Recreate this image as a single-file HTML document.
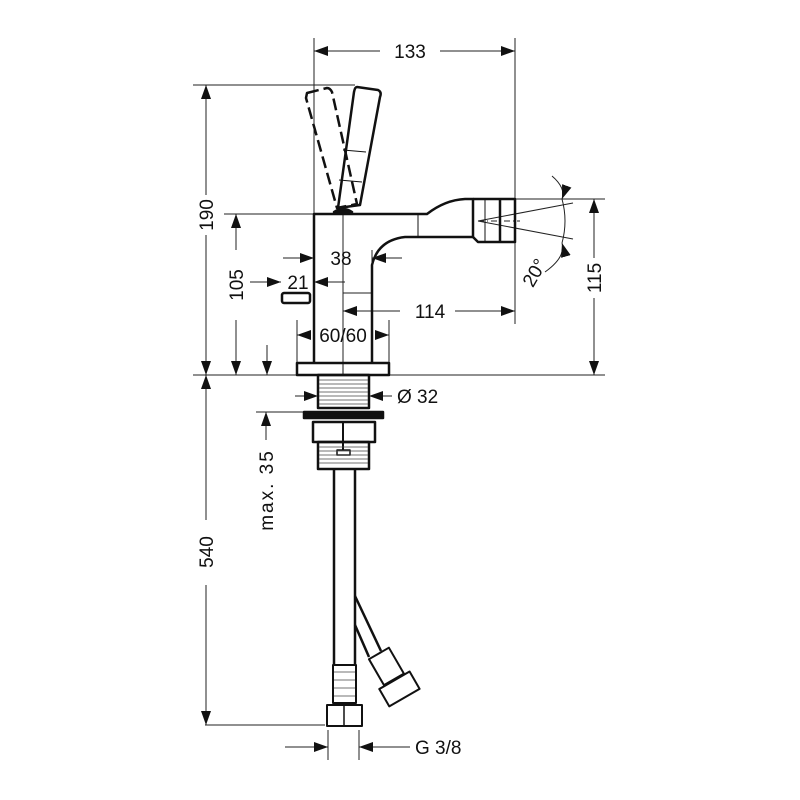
<!DOCTYPE html>
<html><head><meta charset="utf-8"><style>
html,body{margin:0;padding:0;background:#fff}
svg{display:block}
text{font-family:"Liberation Sans",sans-serif;font-size:19px;fill:#111}
</style></head><body>
<svg width="800" height="800" viewBox="0 0 800 800" xmlns="http://www.w3.org/2000/svg">
<defs>
<marker id="a" viewBox="0 0 14 10" refX="14" refY="5" markerWidth="14" markerHeight="10" markerUnits="userSpaceOnUse" orient="auto"><path d="M0,0 L14,5 L0,10 Z" fill="#111"/></marker>
</defs>
<g stroke="#222" stroke-width="1" fill="none">
<line x1="314" y1="38" x2="314" y2="214"/>
<line x1="515" y1="38" x2="515" y2="324"/>
<line x1="193" y1="85" x2="355" y2="85"/>
<line x1="224" y1="214" x2="314" y2="214"/>
<line x1="193" y1="375" x2="605" y2="375"/>
<line x1="515" y1="199" x2="605" y2="199"/>
<line x1="343" y1="214" x2="343" y2="375"/>
<line x1="343" y1="293" x2="372" y2="293"/>
<line x1="297" y1="320" x2="297" y2="363"/>
<line x1="389" y1="320" x2="389" y2="363"/>
<line x1="256" y1="412" x2="305" y2="412"/>
<line x1="205" y1="725" x2="325" y2="725"/>
<line x1="328" y1="730" x2="328" y2="760"/>
<line x1="359" y1="730" x2="359" y2="760"/>
<line x1="372" y1="250" x2="372" y2="262"/>
<line x1="380" y1="51" x2="314" y2="51" marker-end="url(#a)"/>
<line x1="440" y1="51" x2="515" y2="51" marker-end="url(#a)"/>
<line x1="206" y1="195" x2="206" y2="85" marker-end="url(#a)"/>
<line x1="206" y1="235" x2="206" y2="375" marker-end="url(#a)"/>
<line x1="236" y1="250" x2="236" y2="214" marker-end="url(#a)"/>
<line x1="236" y1="320" x2="236" y2="375" marker-end="url(#a)"/>
<line x1="594" y1="258" x2="594" y2="199" marker-end="url(#a)"/>
<line x1="594" y1="298" x2="594" y2="375" marker-end="url(#a)"/>
<line x1="283" y1="258" x2="314" y2="258" marker-end="url(#a)"/>
<line x1="402" y1="258" x2="372" y2="258" marker-end="url(#a)"/>
<line x1="250" y1="282" x2="281" y2="282" marker-end="url(#a)"/>
<line x1="345" y1="282" x2="314" y2="282" marker-end="url(#a)"/>
<line x1="400" y1="311" x2="343" y2="311" marker-end="url(#a)"/>
<line x1="455" y1="311" x2="515" y2="311" marker-end="url(#a)"/>
<line x1="309" y1="335" x2="297" y2="335" marker-end="url(#a)"/>
<line x1="377" y1="335" x2="389" y2="335" marker-end="url(#a)"/>
<line x1="267" y1="345" x2="267" y2="375" marker-end="url(#a)"/>
<line x1="295" y1="396" x2="318" y2="396" marker-end="url(#a)"/>
<line x1="392" y1="396" x2="369" y2="396" marker-end="url(#a)"/>
<line x1="206" y1="520" x2="206" y2="375" marker-end="url(#a)"/>
<line x1="206" y1="585" x2="206" y2="725" marker-end="url(#a)"/>
<line x1="266" y1="440" x2="266" y2="412" marker-end="url(#a)"/>
<line x1="285" y1="747" x2="328" y2="747" marker-end="url(#a)"/>
<line x1="410" y1="747" x2="359" y2="747" marker-end="url(#a)"/>
<line x1="478" y1="221" x2="573" y2="203"/>
<line x1="478" y1="221" x2="573" y2="239"/>
<line x1="478" y1="221" x2="520" y2="221" stroke-dasharray="6,3,1,3"/>
<path d="M552,176 Q566,188 562,199" marker-end="url(#a)"/>
<path d="M545,272 Q566,257 562,243" marker-end="url(#a)"/>
<path d="M562,199 Q568,221 562,243"/>
</g>
<g stroke="#111" stroke-width="2.5" fill="none" stroke-linejoin="round">
<path d="M314,363 L314,214 L427,214 Q445,200 465,199 L473,199 L473,237 L405,237 Q378,240 372,265 L372,363"/>
<line x1="418" y1="214" x2="418" y2="237" stroke-width="1"/>
<path d="M473,199 L515,199 L515,242 L478,242 L473,237"/>
<line x1="500" y1="199" x2="500" y2="242"/>
<line x1="485" y1="199" x2="485" y2="242" stroke-width="1"/>
<rect x="297" y="363" width="92" height="12"/>
<line x1="343" y1="363" x2="343" y2="375" stroke-width="1"/>
<rect x="282" y="293" width="28" height="10" rx="2"/>
<path d="M357,87 L378,90 Q382,92 380,97 L360,205 L338,208 L354,92 Q355,87 357,87 Z"/>
<line x1="343" y1="150" x2="366" y2="152" stroke-width="1"/>
<line x1="339" y1="180" x2="362" y2="182" stroke-width="1"/>
<path d="M307,93 L327,88 Q330,88 332,92 L357,204 L337,208 L306,98 Z" stroke-dasharray="12,5"/>
<path d="M334,212 Q343,206 352,212 Z" fill="#111"/>
<rect x="318" y="375" width="51" height="33"/>
<rect x="304" y="412" width="79" height="6" fill="#111"/>
<rect x="313" y="422" width="62" height="20"/>
<rect x="318" y="442" width="51" height="27"/>
<line x1="343" y1="422" x2="343" y2="450" stroke-width="2"/>
<rect x="337" y="450" width="13" height="5" stroke-width="1.5"/>
<line x1="334" y1="469" x2="334" y2="665"/>
<line x1="355" y1="469" x2="355" y2="665"/>
<rect x="333" y="665" width="23" height="38" stroke-width="2"/>
<rect x="327" y="705" width="35" height="21" stroke-width="2"/>
<line x1="344" y1="705" x2="344" y2="726" stroke-width="1.5"/>
<line x1="355" y1="596" x2="381" y2="651"/>
<line x1="355" y1="625" x2="369" y2="657"/>
<g transform="translate(396,684) rotate(-30)">
<rect x="-11" y="-35" width="23" height="30" stroke-width="2"/>
<rect x="-17" y="-4" width="35" height="20" stroke-width="2"/>
</g>
</g>
<g stroke="#444" stroke-width="0.8">
<line x1="319" y1="380" x2="368" y2="380"/><line x1="319" y1="384" x2="368" y2="384"/><line x1="319" y1="388" x2="368" y2="388"/><line x1="319" y1="392" x2="368" y2="392"/><line x1="319" y1="396" x2="368" y2="396"/><line x1="319" y1="400" x2="368" y2="400"/><line x1="319" y1="404" x2="368" y2="404"/>
<line x1="319" y1="447" x2="368" y2="447"/><line x1="319" y1="451" x2="368" y2="451"/><line x1="319" y1="455" x2="368" y2="455"/><line x1="319" y1="459" x2="368" y2="459"/><line x1="319" y1="463" x2="368" y2="463"/>
<line x1="334" y1="672" x2="355" y2="672"/><line x1="334" y1="680" x2="355" y2="680"/><line x1="334" y1="688" x2="355" y2="688"/><line x1="334" y1="696" x2="355" y2="696"/>
</g>
<text x="410" y="58" text-anchor="middle">133</text>
<text x="341" y="265" text-anchor="middle">38</text>
<text x="298" y="289" text-anchor="middle">21</text>
<text x="430" y="318" text-anchor="middle">114</text>
<text x="343" y="342" text-anchor="middle">60/60</text>
<text x="397" y="403">Ø 32</text>
<text x="415" y="754">G 3/8</text>
<text transform="translate(213,215) rotate(-90)" text-anchor="middle">190</text>
<text transform="translate(243,285) rotate(-90)" text-anchor="middle">105</text>
<text transform="translate(601,278) rotate(-90)" text-anchor="middle">115</text>
<text transform="translate(213,552) rotate(-90)" text-anchor="middle">540</text>
<text transform="translate(273,490) rotate(-90)" text-anchor="middle" letter-spacing="2">max. 35</text>
<text transform="translate(540,276) rotate(-60)" text-anchor="middle">20°</text>
</svg>
</body></html>
